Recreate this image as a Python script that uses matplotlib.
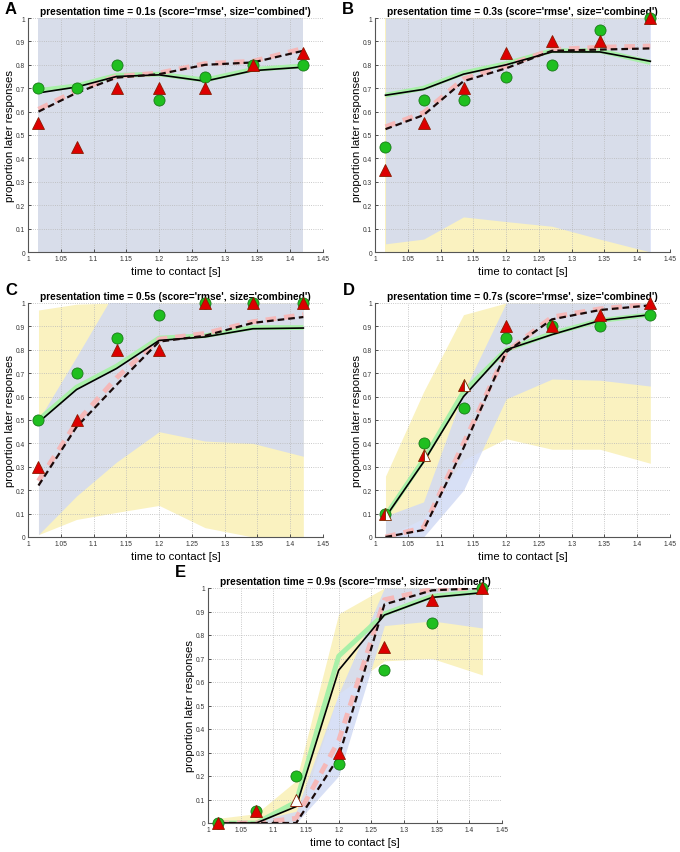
import matplotlib
matplotlib.use("Agg")
import matplotlib.pyplot as plt
from matplotlib.ticker import FuncFormatter

plt.rcParams["font.family"] = ["Liberation Sans", "DejaVu Sans"]

ttc = [1.016, 1.074, 1.135, 1.2, 1.27, 1.343, 1.42]
panel_letters = ["A", "B", "C", "D", "E"]
presentation_times = ["0.1s", "0.3s", "0.5s", "0.7s", "0.9s"]

# observed proportions (circles / triangles)
circles = [
    [0.70, 0.70, 0.80, 0.65, 0.75, 0.80, 0.80],
    [0.45, 0.65, 0.65, 0.75, 0.80, 0.95, 1.00],
    [0.50, 0.70, 0.85, 0.95, 1.00, 1.00, 1.00],
    [0.10, 0.40, 0.55, 0.85, 0.90, 0.90, 0.95],
    [0.00, 0.05, 0.20, 0.25, 0.65, 0.85, 1.00],
]
triangles = [
    [0.55, 0.45, 0.70, 0.70, 0.70, 0.80, 0.85],
    [0.35, 0.55, 0.70, 0.85, 0.90, 0.90, 1.00],
    [0.30, 0.50, 0.80, 0.80, 1.00, 1.00, 1.00],
    [0.10, 0.35, 0.65, 0.90, 0.90, 0.95, 1.00],
    [0.00, 0.05, 0.10, 0.30, 0.75, 0.95, 1.00],
]

# model curves
solid_black = [
    [0.68, 0.705, 0.75, 0.757, 0.73, 0.775, 0.79],
    [0.67, 0.695, 0.76, 0.80, 0.855, 0.855, 0.815],
    [0.49, 0.63, 0.72, 0.84, 0.855, 0.89, 0.893],
    [0.085, 0.32, 0.60, 0.80, 0.865, 0.925, 0.95],
    [0.0, 0.0, 0.07, 0.65, 0.885, 0.96, 0.98],
]
solid_green = [
    [0.69, 0.71, 0.755, 0.76, 0.735, 0.78, 0.795],
    [0.67, 0.70, 0.765, 0.805, 0.86, 0.86, 0.81],
    [0.50, 0.64, 0.73, 0.85, 0.86, 0.895, 0.895],
    [0.09, 0.33, 0.62, 0.80, 0.87, 0.925, 0.95],
    [0.0, 0.0, 0.09, 0.71, 0.89, 0.965, 0.985],
]
dashed_black = [
    [0.60, 0.68, 0.745, 0.76, 0.80, 0.81, 0.86],
    [0.525, 0.585, 0.73, 0.785, 0.86, 0.865, 0.87],
    [0.22, 0.47, 0.65, 0.835, 0.86, 0.915, 0.94],
    [0.0, 0.03, 0.38, 0.79, 0.93, 0.97, 0.99],
    [0.0, 0.0, 0.0, 0.28, 0.93, 0.99, 1.0],
]
dashed_pink = [
    [0.61, 0.69, 0.75, 0.765, 0.805, 0.815, 0.87],
    [0.535, 0.595, 0.74, 0.795, 0.865, 0.875, 0.88],
    [0.24, 0.49, 0.68, 0.845, 0.87, 0.92, 0.95],
    [0.0, 0.04, 0.40, 0.79, 0.94, 0.975, 0.995],
    [0.0, 0.0, 0.02, 0.35, 0.95, 0.995, 1.0],
]

# prediction ranges
yellow_lo = [
    [0, 0, 0, 0, 0, 0, 0],
    [0, 0, 0, 0, 0, 0, 0],
    [0.01, 0.075, 0.105, 0.135, 0.04, 0.0, 0.0],
    [0.0, 0.08, 0.33, 0.42, 0.375, 0.375, 0.315],
    [0.0, 0.0, 0.0, 0.55, 0.69, 0.70, 0.63],
]
yellow_hi = [
    [1, 1, 1, 1, 1, 1, 1],
    [1, 1, 1, 1, 1, 1, 1],
    [0.97, 0.995, 1.0, 1.0, 1.0, 1.0, 1.0],
    [0.26, 0.62, 0.95, 1.0, 1.0, 1.0, 1.0],
    [0.02, 0.04, 0.18, 0.89, 1.0, 1.0, 1.0],
]
blue_lo = [
    [0, 0, 0, 0, 0, 0, 0],
    [0.035, 0.055, 0.15, 0.13, 0.11, 0.055, 0.0],
    [0.01, 0.175, 0.32, 0.45, 0.41, 0.40, 0.345],
    [0.0, 0.0, 0.20, 0.59, 0.675, 0.67, 0.645],
    [0.0, 0.0, 0.0, 0.20, 0.84, 0.86, 0.83],
]
blue_hi = [
    [1, 1, 1, 1, 1, 1, 1],
    [1, 1, 1, 1, 1, 1, 1],
    [0.50, 0.77, 1.06, 1.0, 1.0, 1.0, 1.0],
    [0.09, 0.15, 0.62, 1.0, 1.0, 1.0, 1.0],
    [0.005, 0.01, 0.05, 0.55, 1.0, 1.0, 1.0],
]

# triangles that render half/hollow in the original
half_triangles = {3: [0, 1, 2]}
hollow_triangles = {4: [2]}

W, H = 680, 853
axes_px = [
    (28, 19, 295, 234),
    (375, 19, 295, 234),
    (28, 304, 295, 234),
    (375, 304, 295, 234),
    (208, 589, 294, 235),
]
letter_px = [(5, 2), (342, 2), (5, 283), (343, 283), (175, 565)]


def draw_panel(ax, i):
    ax.fill_between(ttc, yellow_lo[i], yellow_hi[i], color="#faf2c0", lw=0, zorder=0.2)
    ax.fill_between(ttc, blue_lo[i], blue_hi[i], color="#d0d9f4", alpha=0.81, lw=0, zorder=0.3)

    ax.plot(ttc, solid_green[i], color="#a8f0a8", lw=3.5, solid_capstyle="butt", zorder=2)
    ax.plot(ttc, dashed_pink[i], color="#f5b8b8", lw=3.5, dashes=(2.2, 1.6), zorder=2)
    ax.plot(ttc, solid_black[i], color="black", lw=1.2, zorder=3)
    ax.plot(ttc, dashed_black[i], color="#1a0a0a", lw=1.6, dashes=(3.0, 1.8), zorder=3)

    ax.plot(ttc, circles[i], "o", ms=8, mfc="#1fbf1f", mec="#1a7a1a", mew=0.6,
            ls="none", zorder=4, clip_on=False)
    half = half_triangles.get(i, [])
    hollow = hollow_triangles.get(i, [])
    for k, (x, y) in enumerate(zip(ttc, triangles[i])):
        if k in half:
            ax.plot(x, y, "^", ms=8, mfc="#dd0000", mec="#7a2a00", mew=0.6,
                    fillstyle="left", markerfacecoloralt="white", zorder=5, clip_on=False)
        elif k in hollow:
            ax.plot(x, y, "^", ms=8, mfc="white", mec="#8a1a00", mew=0.6,
                    zorder=5, clip_on=False)
        else:
            ax.plot(x, y, "^", ms=8, mfc="#dd0000", mec="#8a1a00", mew=0.6,
                    zorder=5, clip_on=False)

    ax.set_xlim(1, 1.45)
    ax.set_ylim(0, 1)
    ax.set_xticks([1 + 0.05 * k for k in range(10)])
    ax.set_yticks([0.1 * k for k in range(11)])
    ax.xaxis.set_major_formatter(FuncFormatter(lambda v, _: f"{round(v, 2):g}"))
    ax.yaxis.set_major_formatter(FuncFormatter(lambda v, _: f"{round(v, 1):g}"))
    ax.tick_params(direction="in", length=2, width=0.6, labelsize=4.8, pad=2, colors="#333333")
    ax.set_axisbelow(True)
    ax.grid(True, ls=":", color="#b8b8b8", lw=0.6)
    for side in ("top", "right"):
        ax.spines[side].set_visible(False)
    for side in ("left", "bottom"):
        ax.spines[side].set_color("#555555")
        ax.spines[side].set_linewidth(0.8)

    ax.set_xlabel("time to contact [s]", fontsize=8.2, labelpad=3)
    ax.set_ylabel("proportion later responses", fontsize=8.2, labelpad=1)
    ax.set_title(f"presentation time = {presentation_times[i]} (score='rmse', size='combined')",
                 fontsize=7.3, fontweight="bold", pad=3)


def main() -> None:
    fig = plt.figure(figsize=(W / 100, H / 100), dpi=100)
    for i, (x0, y0, w, h) in enumerate(axes_px):
        ax = fig.add_axes([x0 / W, 1 - (y0 + h) / H, w / W, h / H])
        draw_panel(ax, i)
        lx, ly = letter_px[i]
        fig.text(lx / W, 1 - ly / H, panel_letters[i], fontsize=12, fontweight="bold",
                 ha="left", va="top")
    fig.savefig("out.png", dpi=100)
    plt.close(fig)


if __name__ == "__main__":
    main()
